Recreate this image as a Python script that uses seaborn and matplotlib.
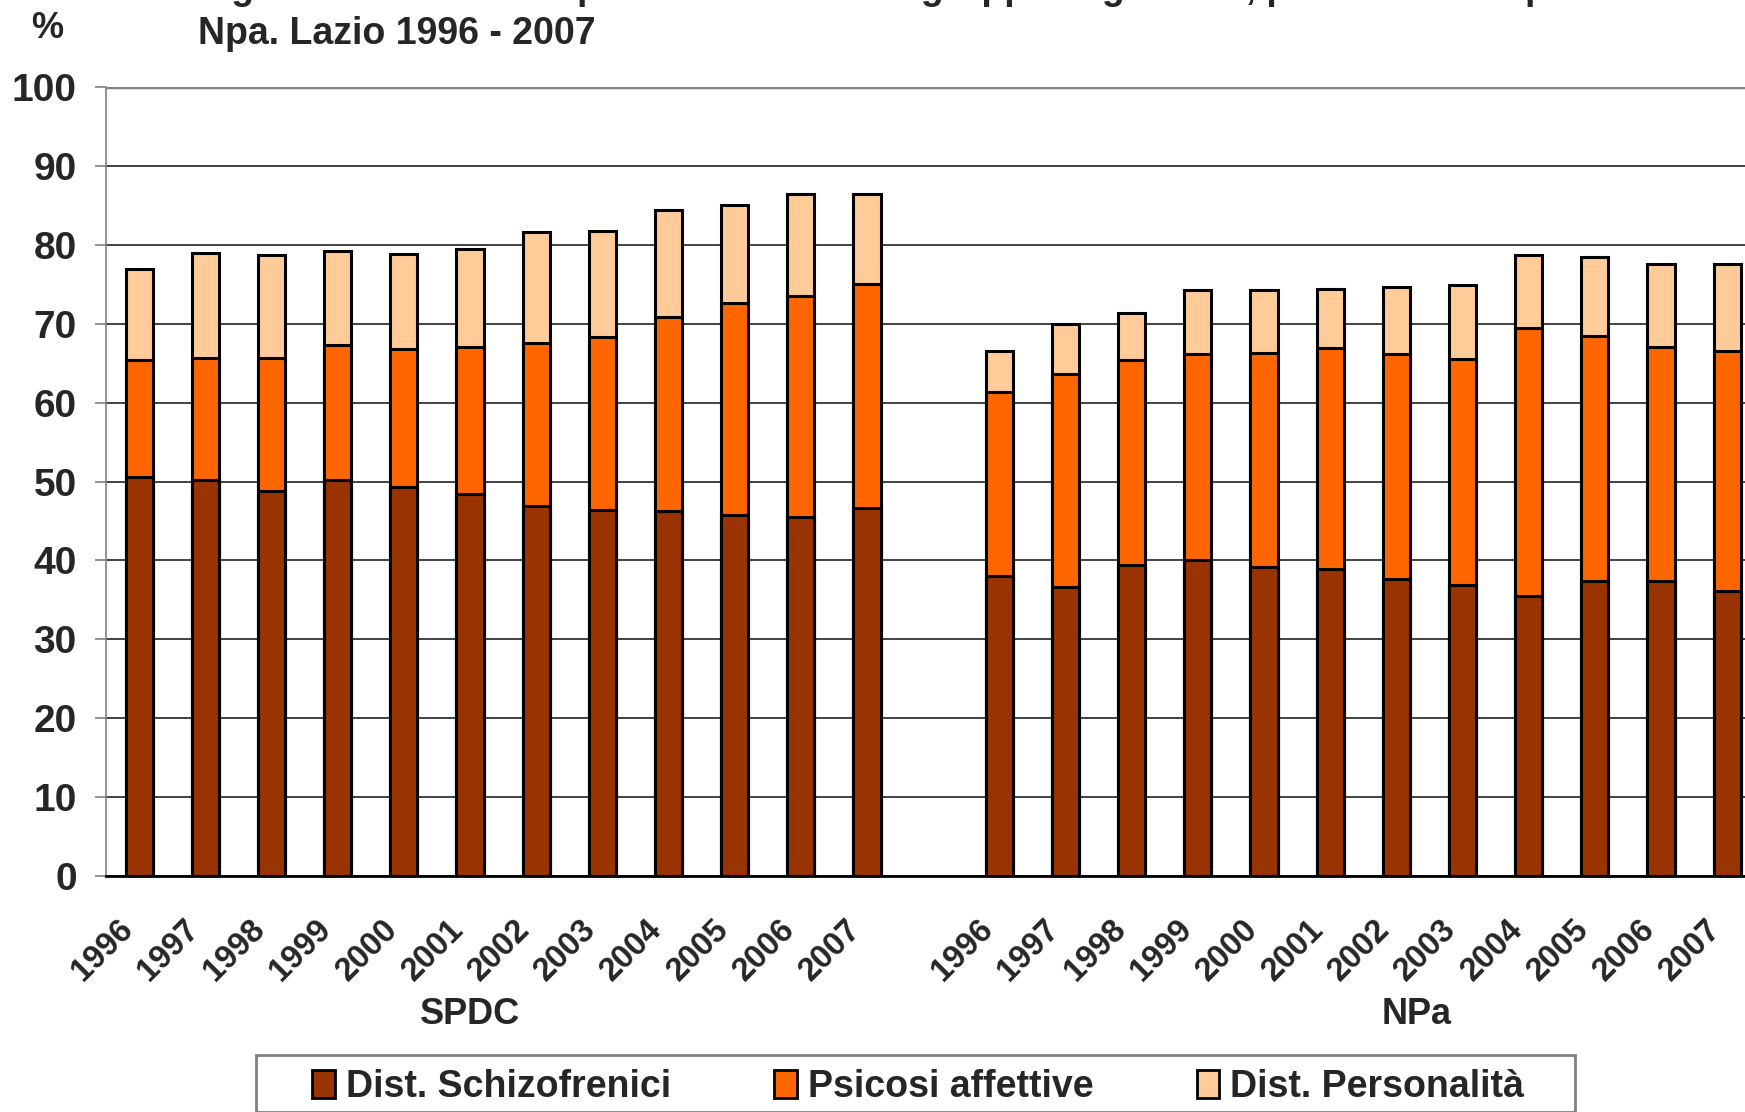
import pandas as pd
import matplotlib.pyplot as plt
from matplotlib.patches import Patch, Rectangle
import matplotlib.transforms as mtransforms
import seaborn as sns

# values (%), by year 1996-2007
years = [str(y) for y in range(1996, 2008)]
groups = ['SPDC', 'NPa']

spdc_schizo = [50.6, 50.2, 48.8, 50.2, 49.3, 48.4, 46.9, 46.4, 46.3, 45.8, 45.5, 46.6]
spdc_affettive = [14.8, 15.5, 16.9, 17.1, 17.5, 18.6, 20.7, 21.9, 24.6, 26.8, 28.0, 28.4]
spdc_personalita = [11.5, 13.2, 13.0, 11.9, 12.0, 12.5, 14.0, 13.4, 13.5, 12.4, 13.0, 11.5]

npa_schizo = [38.0, 36.6, 39.4, 40.1, 39.2, 38.9, 37.7, 36.9, 35.5, 37.4, 37.4, 36.1]
npa_affettive = [23.4, 27.0, 26.0, 26.0, 27.1, 28.0, 28.4, 28.6, 33.9, 31.0, 29.7, 30.5]
npa_personalita = [5.2, 6.4, 5.9, 8.2, 8.0, 7.5, 8.6, 9.4, 9.3, 10.0, 10.5, 11.0]

series_names = ['Dist. Schizofrenici', 'Psicosi affettive', 'Dist. Personalità']
colors = ['#993300', '#FF6600', '#FFCC99']

title_line1 = ('Fig. 3 - Distribuzione percentuale nei tre gruppi diagnostici, '
               'per ricoveri ospedalieri in SPDC e')
title_line2 = 'Npa. Lazio 1996 - 2007'


def main():
    rows = []
    for g, sz, af, pe in [('SPDC', spdc_schizo, spdc_affettive, spdc_personalita),
                          ('NPa', npa_schizo, npa_affettive, npa_personalita)]:
        for y, a, b, c in zip(years, sz, af, pe):
            rows.append({'key': f'{g} {y}', 'group': g, 'year': y,
                         'schizo': a, 'affettive': b, 'personalita': c})
    df = pd.DataFrame(rows)
    df['mid'] = df['schizo'] + df['affettive']
    df['total'] = df['mid'] + df['personalita']

    # one empty slot between the two groups
    order = [f'SPDC {y}' for y in years] + ['gap'] + [f'NPa {y}' for y in years]

    sns.set_style('white')
    plt.rcParams['font.family'] = ['Liberation Sans', 'DejaVu Sans']
    plt.rcParams['font.weight'] = 'bold'

    fig = plt.figure(figsize=(17.45, 11.12), dpi=100)
    ax = fig.add_axes([106 / 1745, 1 - 876 / 1112, 0.948, 789 / 1112])

    # stacked bars: draw the cumulative heights back to front
    for col, c in zip(['total', 'mid', 'schizo'], colors[::-1]):
        sns.barplot(data=df, x='key', y=col, order=order, color=c, width=0.41,
                    edgecolor='black', linewidth=2.2, saturation=1, ax=ax,
                    zorder=3)

    ax.set_xlim(-0.5, 24.5)
    ax.set_ylim(0, 100)
    ax.set_yticks(range(0, 101, 10))
    ax.yaxis.grid(True, color='#222222', linewidth=1.2, zorder=0)
    ax.set_axisbelow(True)
    ax.tick_params(axis='y', left=True, length=8, width=1.2, color='#808080',
                   pad=13, labelsize=28)
    for lab in ax.get_yticklabels():
        lab.set_fontweight('bold')

    tick_pos = [i for i, k in enumerate(order) if k != 'gap']
    tick_lab = [df.loc[df['key'] == order[i], 'year'].iloc[0] for i in tick_pos]
    ax.set_xticks(tick_pos)
    ax.set_xticklabels(tick_lab, rotation=45, ha='right', fontsize=23.5,
                       fontweight='bold')
    ax.tick_params(axis='x', bottom=False, pad=24)
    ax.set_xlabel('')
    ax.set_ylabel('')

    for s in ['top', 'right']:
        ax.spines[s].set_visible(False)
    ax.spines['left'].set_color('#808080')
    ax.spines['left'].set_linewidth(1.2)
    ax.spines['bottom'].set_color('black')
    ax.spines['bottom'].set_linewidth(2)
    ax.axhline(100, color='#808080', linewidth=2.5, zorder=1)

    # group labels under the years
    trans = mtransforms.blended_transform_factory(ax.transData, fig.transFigure)
    for g, xg in zip(groups, [5.0, 19.3]):
        ax.text(xg, 1 - 1015 / 1112, g, transform=trans, ha='center',
                va='center', fontsize=26, fontweight='bold')

    # titles (first line is cut by the top edge, only descenders show)
    fig.text(198 / 1745, 1 + 1 / 1112, title_line1, ha='left', va='baseline',
             fontsize=27, fontweight='bold')
    fig.text(198 / 1745, 1 - 44 / 1112, title_line2, ha='left', va='baseline',
             fontsize=27, fontweight='bold')
    fig.text(47 / 1745, 1 - 38 / 1112, '%', ha='center', va='baseline',
             fontsize=26, fontweight='bold')

    # legend with a plain box, cut at the bottom of the figure
    handles = [Patch(facecolor=c, edgecolor='black', linewidth=2) for c in colors]
    fig.legend(handles, series_names, loc='center left',
               bbox_to_anchor=(312 / 1745, 1 - 1087 / 1112), ncol=3,
               frameon=False, prop={'weight': 'bold', 'size': 27},
               handlelength=0.6, handleheight=0.75, handletextpad=0.3,
               columnspacing=2.75, borderpad=0, borderaxespad=0)
    fig.patches.append(Rectangle((256 / 1745, 0), 1319 / 1745, 1 - 1055 / 1112,
                                 transform=fig.transFigure, facecolor='none',
                                 edgecolor='#808080', linewidth=2))

    fig.savefig('out.png', dpi=100)


if __name__ == '__main__':
    main()
